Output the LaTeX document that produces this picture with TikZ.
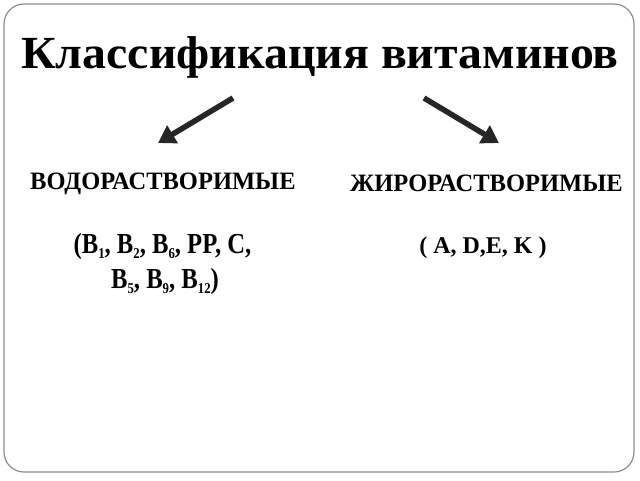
\documentclass[tikz,border=0pt]{standalone}
\usepackage{fontspec}
\setmainfont{Liberation Serif}
\usetikzlibrary{arrows.meta}
\newcommand{\vsub}[1]{\raisebox{-5.5pt}{\fontsize{15}{15}\selectfont #1}}
\tikzset{
  frame/.style={draw=black!45, line width=1.2pt, rounded corners=20pt},
  heading/.style={font=\fontsize{25}{29}\selectfont\bfseries, inner sep=0pt, anchor=base west},
  vit/.style={font=\fontsize{29}{35}\selectfont\bfseries, inner sep=0pt, anchor=base},
  arr/.style={draw=black!85, line width=5.5pt, -{Triangle[length=17pt,width=20pt]}}
}
\begin{document}
\begin{tikzpicture}[x=1pt,y=-1pt]
\useasboundingbox (0,0) rectangle (640,480);
\fill[white] (0,0) rectangle (640,480);
\draw[frame] (4,4) rectangle (634,472);
\node[font=\fontsize{46}{50}\selectfont\bfseries, inner sep=0pt, anchor=base] (title) at (320,68) {\scalebox{1.04}[1]{Классификация витаминов}};
\coordinate (a1) at (233,98);
\coordinate (a2) at (158,143);
\coordinate (b1) at (424,98);
\coordinate (b2) at (499,143);
\draw[arr] (a1) -- (a2);
\draw[arr] (b1) -- (b2);
\node[heading] (w) at (30,189) {\scalebox{0.98}[1]{ВОДОРАСТВОРИМЫЕ}};
\node[heading] (f) at (350,191) {\scalebox{0.98}[1]{ЖИРОРАСТВОРИМЫЕ}};
\node[vit] (wl1) at (162.5,253) {\scalebox{0.85}[1]{(B\vsub{1}, B\vsub{2}, B\vsub{6}, PP, C,}};
\node[vit] (wl2) at (165,288) {\scalebox{0.85}[1]{B\vsub{5}, B\vsub{9}, B\vsub{12})}};
\node[font=\fontsize{24}{28}\selectfont\bfseries, inner sep=0pt, anchor=base] (fl) at (483,253) {( A, D,E, K )};
\end{tikzpicture}
\end{document}
